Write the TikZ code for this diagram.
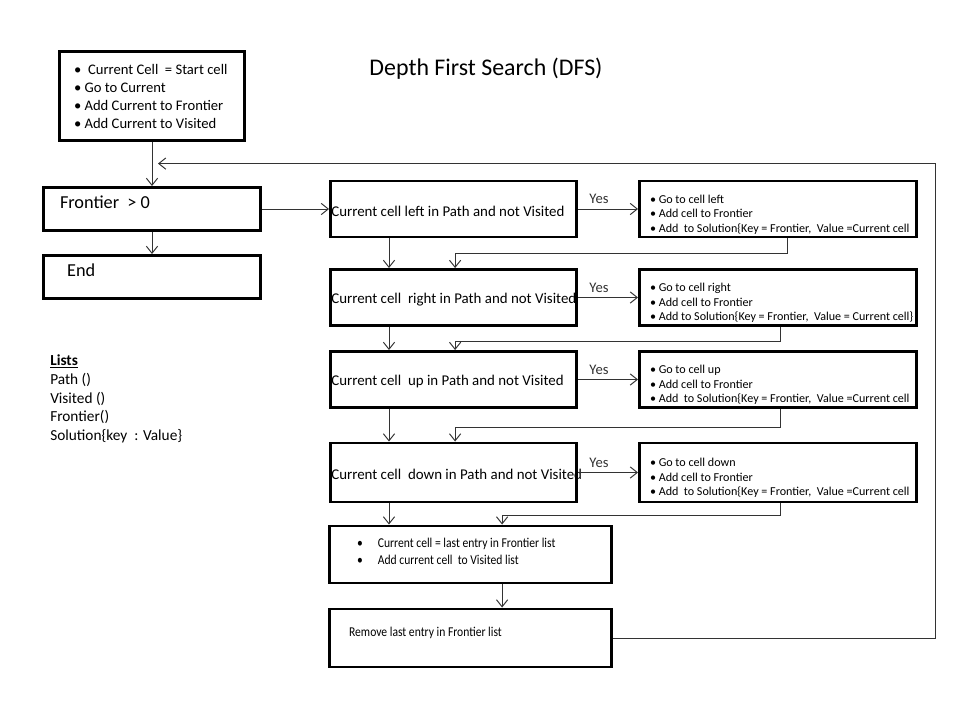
\documentclass[tikz,border=0pt]{standalone}
\usepackage{fontspec}
\setmainfont{Carlito}
\newfontfamily\narrowfont[FakeStretch=0.86]{Carlito}
\usetikzlibrary{arrows.meta, positioning}

\begin{document}
\begin{tikzpicture} [node distance = 2cm, on grid, auto,
    box/.style = {draw, rectangle, line width = 2.1pt, inner ysep = 0pt, align = flush left},
    test/.style = {box, minimum width = 6.15cm, minimum height = 1.4cm, inner xsep = 0.02cm,
        text width = 6.11cm, shiftdown = 10.5pt, font = \fontsize{10.6}{12.5}\selectfont},
    act/.style = {box, minimum width = 6.925cm, minimum height = 1.4cm, inner xsep = 0.26cm,
        text width = 6.4cm, shiftdown = 13.5pt, font = \fontsize{8.6}{10.3}\selectfont},
    shiftup/.style = {execute at end node = {\rule[-#1]{0pt}{#1}}},
    shiftdown/.style = {execute at begin node = {\rule{0pt}{#1}}},
    flow/.style = {-{Straight Barb[length = 5pt, width = 8pt]}, line width = 0.7pt, black!80}]

\useasboundingbox (0,0) rectangle (24,-18);

\node (title) at (12.15,-1.725) [font = \fontsize{17}{20}\selectfont] {Depth First Search (DFS)};

\node (frontier) at (3.8,-5.225) [box, minimum width = 5.425cm, minimum height = 1.075cm,
    inner xsep = 0.41cm, text width = 4.6cm, shiftup = 0.35cm,
    font = \fontsize{13}{16}\selectfont] {Frontier~ > 0};
\node (start) [box, above = 2.825cm of frontier, minimum width = 4.625cm, minimum height = 2.225cm,
    inner xsep = 0.36cm, text width = 3.9cm, font = \fontsize{10.4}{12.8}\selectfont]
    {\mbox{\textbullet\hspace{0.17cm}Current Cell~ = Start cell}\\ \textbullet\ Go to Current\\
     \textbullet\ Add Current to Frontier\\ \textbullet\ Add Current to Visited};
\node (done) [box, below = 1.7cm of frontier, minimum width = 5.425cm, minimum height = 1.075cm,
    inner xsep = 0.59cm, text width = 4.24cm, shiftup = 0.35cm,
    font = \fontsize{13}{16}\selectfont] {End};

\node (lists) at (1.25,-8.85) [anchor = north west, align = left, inner sep = 0pt,
    font = \fontsize{10.9}{13.5}\selectfont]
    {\underline{\textbf{Lists}}\\ Path ()\\ Visited ()\\ Frontier()\\ Solution\{key~ : Value\}};

% checks on the four neighbours
\node (left)  [test, right = 7.5375cm of frontier] {\mbox{Current cell left in Path and not Visited}};
\node (right) [test, below = 2.2125cm of left] {\mbox{Current cell~ right in Path and not Visited}};
\node (up)    [test, below = 2.05cm of right] {\mbox{Current cell~ up in Path and not Visited}};
\node (down)  [test, below = 2.325cm of up, minimum height = 1.475cm] {\mbox{Current cell~ down in Path and not Visited}};

\node (goleft)  [act, right = 8.1125cm of left]
    {\textbullet\ Go to cell left\\ \textbullet\ Add cell to Frontier\\
     \mbox{\textbullet\ Add~ to Solution\{Key = Frontier,~ Value =Current cell}};
\node (goright) [act, right = 8.1125cm of right]
    {\textbullet\ Go to cell right\\ \textbullet\ Add cell to Frontier\\
     \mbox{\textbullet\ Add to Solution\{Key = Frontier,~ Value = Current cell\}}};
\node (goup)    [act, right = 8.1125cm of up]
    {\textbullet\ Go to cell up\\ \textbullet\ Add cell to Frontier\\
     \mbox{\textbullet\ Add~ to Solution\{Key = Frontier,~ Value =Current cell}};
\node (godown)  [act, right = 8.1125cm of down, minimum height = 1.475cm]
    {\textbullet\ Go to cell down\\ \textbullet\ Add cell to Frontier\\
     \mbox{\textbullet\ Add~ to Solution\{Key = Frontier,~ Value =Current cell}};

\node (pop) [box, below right = 2.05cm and 0.425cm of down, minimum width = 7.05cm,
    minimum height = 1.425cm, inner xsep = 0.69cm, text width = 5.67cm, shiftup = 0.15cm,
    font = \narrowfont\fontsize{9.6}{12}\selectfont]
    {\textbullet\hspace{0.375cm}Current cell = last entry in Frontier list\\
     \textbullet\hspace{0.375cm}Add current cell~ to Visited list};
\node (remove) [box, below = 2.0875cm of pop, minimum width = 7.05cm, minimum height = 1.45cm,
    inner xsep = 0.49cm, text width = 6.07cm, shiftup = 0.32cm,
    font = \narrowfont\fontsize{9.6}{12}\selectfont] {Remove last entry in Frontier list};

\coordinate (back) at ([xshift = 0.15cm, yshift = -0.54cm]start.south);

\draw [flow] (start) -- (start |- frontier.north);
\draw [flow] (frontier) -- (done);
\draw [flow] (frontier.east) -- (frontier.east -| left.west);

\path [flow, every node/.style = {font = \fontsize{10.4}{12}\selectfont}]
    (left)  edge node [pos = 0.35] {Yes} (goleft)
    (right) edge node [pos = 0.35] {Yes} (goright)
    (up)    edge node [pos = 0.35] {Yes} (goup)
    (down)  edge node [pos = 0.35] {Yes} (godown);

\draw [flow] ([xshift = -1.6125cm]left.south) -- ([xshift = -1.6125cm]right.north);
\draw [flow] ([xshift = -1.6125cm]right.south) -- ([xshift = -1.6125cm]up.north);
\draw [flow] ([xshift = -1.6125cm]up.south) -- ([xshift = -1.6125cm]down.north);
\draw [flow] ([xshift = -1.6125cm]down.south) -- ([xshift = -1.6125cm]down.south |- pop.north);

\draw [flow] ([xshift = 0.225cm]goleft.south) -- ++(0,-0.38) -| ([xshift = 0.04cm]right.north);
\draw [flow] ([xshift = 0.05cm]goright.south) -- ++(0,-0.36) -| ([xshift = 0.04cm]up.north);
\draw [flow] ([xshift = 0.05cm]goup.south) -- ++(0,-0.46) -| ([xshift = 0.04cm]down.north);
\draw [flow] ([xshift = 0.05cm]godown.south) -- ++(0,-0.3) -| ([xshift = 0.79cm]pop.north);

\draw [flow] ([xshift = 0.79cm]pop.south) -- ([xshift = 0.79cm]remove.north);
\draw [flow] (remove.east) -- ++(8.05,0) |- (back);
\end{tikzpicture}
\end{document}
